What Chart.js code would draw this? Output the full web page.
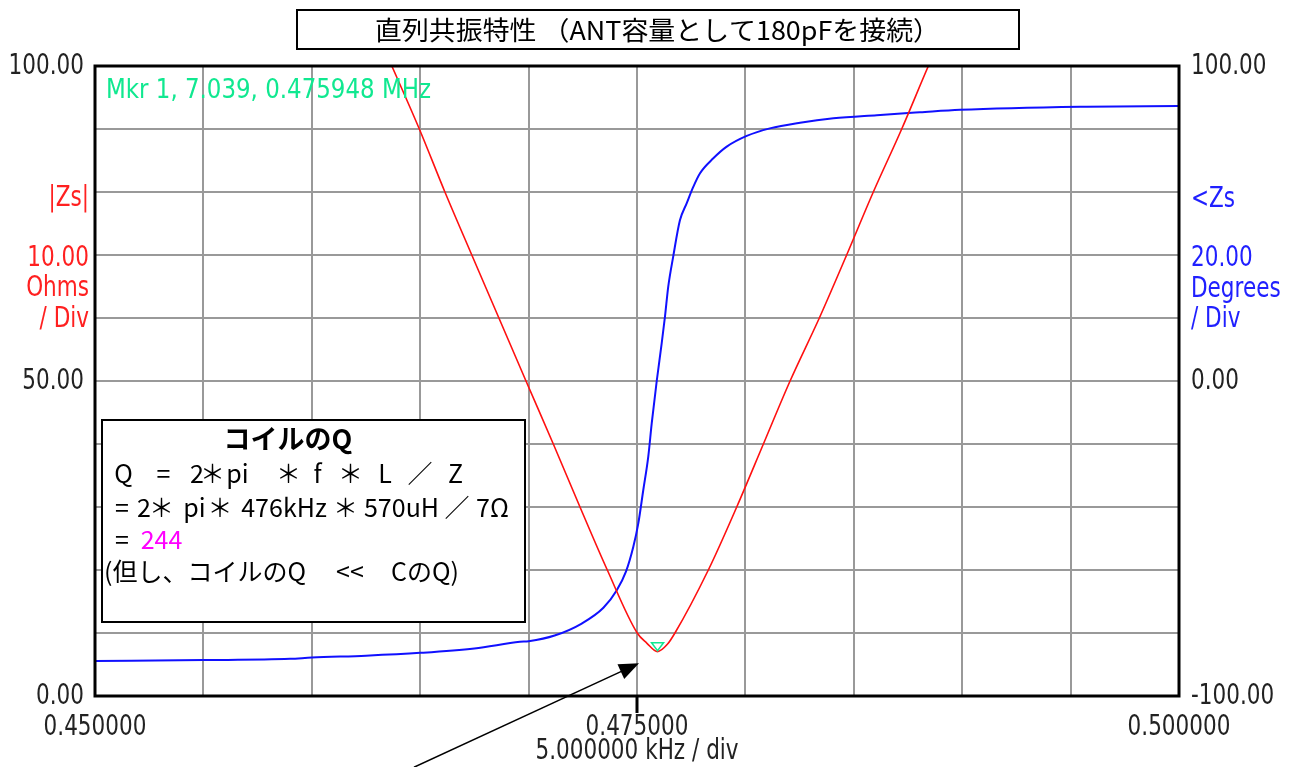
<!DOCTYPE html>
<html>
<head>
<meta charset="utf-8">
<script src="https://cdn.jsdelivr.net/npm/chart.js@4/dist/chart.umd.min.js"></script>
<style>
html, body { margin: 0; padding: 0; background: #fff; }
#wrap { width: 1299px; height: 767px; }
</style>
</head>
<body>
<div id="wrap"><canvas id="c"></canvas></div>
<script>
// |Zs| trace (MHz, ohms)
var zsFreq = [0.46330, 0.46369, 0.46496, 0.46614, 0.46738, 0.46863, 0.46988, 0.47114, 0.47237, 0.47363,
              0.47501, 0.47545, 0.475948, 0.47640, 0.47675, 0.47829, 0.47960, 0.48083, 0.48206, 0.48341,
              0.48467, 0.48590, 0.48721, 0.48844, 0.48870];
var zsOhm  = [103, 100, 90, 80, 70, 60, 50, 40, 30, 20,
              10, 8.4, 7.039, 8.2, 10, 20, 30, 40, 50, 60,
              70, 80, 90, 100, 102];
// <Zs trace (MHz, degrees)
var phFreq = [0.45000, 0.45500, 0.45900, 0.46000, 0.46250, 0.46500, 0.46750, 0.46960, 0.47000, 0.47120,
              0.47245, 0.47345, 0.47406, 0.47449, 0.47483, 0.47506, 0.47529, 0.47552, 0.47568, 0.47591,
              0.47614, 0.47629, 0.47644, 0.47667, 0.47698, 0.47729, 0.47760, 0.47790, 0.47852, 0.47914,
              0.48006, 0.48113, 0.48252, 0.48406, 0.48606, 0.48805, 0.48990, 0.49546, 0.50000];
var phDeg  = [-88.9, -88.6, -88.2, -87.8, -87.2, -86.3, -84.9, -82.8, -82.6, -80.8,
              -77.0, -72.0, -66.5, -60.5, -52.6, -45.2, -34.6, -24.0, -13.4, 0.0,
              12.0, 20.4, 29.9, 39.5, 51.0, 56.4, 61.7, 65.9, 70.7, 74.4,
              77.8, 80.2, 82.0, 83.4, 84.4, 85.3, 86.1, 87.1, 87.3];
var mkrFreq = 0.475948, mkrOhm = 7.039;
var xTickLabels  = ["0.450000", "0.475000", "0.500000"];
var yTickLabels  = ["0.00", "50.00", "100.00"];
var y2TickLabels = ["-100.00", "0.00", "100.00"];

var NARROW = '"DejaVu Sans",sans-serif';
var JP = '"Noto Sans CJK JP","Noto Sans",sans-serif';
var SQ = 0.77; // horizontal squeeze for the narrow instrument font

var pts = function(xs, ys){ return xs.map(function(x, i){ return {x: x, y: ys[i]}; }); };

function sqText(ctx, str, x, y, align, sx){
  ctx.save();
  ctx.translate(x, y);
  ctx.scale(sx, 1);
  ctx.textAlign = align;
  ctx.fillText(str, 0, 0);
  ctx.restore();
}
function fitText(ctx, str, x, y, width){
  var sx = width / ctx.measureText(str).width;
  sqText(ctx, str, x, y, 'left', sx);
}
// each token drawn centred on its x (or left aligned when asked)
function tokens(ctx, list, y){
  list.forEach(function(t){
    ctx.textAlign = t[3] || 'center';
    ctx.fillStyle = t[2] || '#000';
    ctx.fillText(t[0], t[1], y);
  });
}

var decor = {
  id: 'decor',
  afterDraw: function(chart){
    var ctx = chart.ctx, a = chart.chartArea;
    var xs = chart.scales.x, ys = chart.scales.y, y2 = chart.scales.y2;
    ctx.save();
    ctx.textBaseline = 'middle';
    // plot frame
    ctx.strokeStyle = '#000'; ctx.lineWidth = 3;
    ctx.strokeRect(a.left, a.top, a.right - a.left, a.bottom - a.top);
    var cx = xs.getPixelForValue(0.475);
    ctx.beginPath(); ctx.moveTo(cx, a.bottom); ctx.lineTo(cx, a.bottom + 17); ctx.stroke();

    // tick labels from the scales
    ctx.font = '28px ' + NARROW;
    ctx.fillStyle = '#222';
    xs.ticks.forEach(function(t, i){
      if (i % 5 === 0) sqText(ctx, xTickLabels[i / 5], xs.getPixelForValue(t.value), 728, 'center', SQ);
    });
    ys.ticks.forEach(function(t, i){
      if (i % 5 === 0) sqText(ctx, yTickLabels[i / 5], a.left - 11, ys.getPixelForValue(t.value) + 1, 'right', SQ);
    });
    y2.ticks.forEach(function(t, i){
      if (i % 5 === 0) sqText(ctx, y2TickLabels[i / 5], a.right + 12, y2.getPixelForValue(t.value) + 1, 'left', SQ);
    });
    sqText(ctx, '5.000000 kHz / div', cx, 752, 'center', SQ);

    // axis captions
    ctx.fillStyle = '#FF2020';
    sqText(ctx, '|Zs|', 89, 199, 'right', SQ);
    sqText(ctx, '10.00', 89, 259, 'right', SQ);
    sqText(ctx, 'Ohms', 89, 289, 'right', SQ);
    sqText(ctx, '/ Div', 89, 320, 'right', SQ);
    ctx.fillStyle = '#2020FF';
    sqText(ctx, '<Zs', 1191, 200, 'left', SQ);
    sqText(ctx, '20.00', 1191, 259, 'left', SQ);
    sqText(ctx, 'Degrees', 1191, 290, 'left', SQ);
    sqText(ctx, '/ Div', 1191, 320, 'left', SQ);

    // marker readout
    ctx.font = '27px ' + NARROW;
    ctx.fillStyle = '#10E890';
    fitText(ctx, 'Mkr 1, 7.039, 0.475948 MHz', 106, 91, 325);

    // marker triangle
    var mx = xs.getPixelForValue(mkrFreq), my = ys.getPixelForValue(mkrOhm);
    ctx.strokeStyle = '#10E890'; ctx.lineWidth = 1.5;
    ctx.beginPath();
    ctx.moveTo(mx - 6, my - 9); ctx.lineTo(mx + 6, my - 9); ctx.lineTo(mx, my - 1); ctx.closePath();
    ctx.stroke();

    // title box
    ctx.strokeStyle = '#000'; ctx.lineWidth = 2;
    ctx.fillStyle = '#fff';
    ctx.fillRect(297, 10, 722, 39);
    ctx.strokeRect(297, 10, 722, 39);
    ctx.fillStyle = '#000';
    ctx.font = '26px ' + JP;
    fitText(ctx, '直列共振特性 （ANT容量として180pFを接続）', 375, 30, 565);

    // Q note box
    ctx.fillStyle = '#fff';
    ctx.fillRect(102, 420, 423, 202);
    ctx.strokeRect(102, 420, 423, 202);
    ctx.fillStyle = '#000';
    ctx.textAlign = 'center';
    ctx.font = 'bold 27px ' + JP;
    ctx.fillText('コイルのQ', 288, 439);
    ctx.font = '25px ' + JP;
    tokens(ctx, [['Q',123.5],['=',163.5],['2',197],['＊',212.5],['pi',237.5],['＊',288.5],['f',317.5],
                 ['＊',350.5],['L',385],['／',420],['Z',455.5]], 473);
    tokens(ctx, [['=',122],['2',144],['＊',161.5],['pi',194.5],['＊',220],['476kHz',284],['＊',345.5],
                 ['570uH',401.5],['／',457],['7Ω',492.5]], 507);
    tokens(ctx, [['=',122],['244',161.5,'#FF00FF']], 539);
    tokens(ctx, [['(但し、コイルのQ',104,'#000','left'],['<<',350],['CのQ)',425]], 571);

    // arrow to the 0.475 MHz point
    var tx = cx + 2, ty = ys.getPixelForValue(5.2);
    var sx = tx - 225, sy = ty + 104;
    var ang = Math.atan2(ty - sy, tx - sx), c = Math.cos(ang), s = Math.sin(ang);
    ctx.strokeStyle = '#000'; ctx.fillStyle = '#000'; ctx.lineWidth = 1.5;
    ctx.beginPath(); ctx.moveTo(sx, sy); ctx.lineTo(tx - 14 * c, ty - 14 * s); ctx.stroke();
    ctx.beginPath();
    ctx.moveTo(tx, ty);
    ctx.lineTo(tx - 20 * c + 8 * s, ty - 20 * s - 8 * c);
    ctx.lineTo(tx - 20 * c - 8 * s, ty - 20 * s + 8 * c);
    ctx.closePath(); ctx.fill();
    ctx.restore();
  }
};

new Chart(document.getElementById('c'), {
  type: 'line',
  data: {
    datasets: [
      { label: '|Zs|', data: pts(zsFreq, zsOhm), yAxisID: 'y', borderColor: '#FF1010', borderWidth: 1.6,
        pointRadius: 0, cubicInterpolationMode: 'monotone' },
      { label: '<Zs', data: pts(phFreq, phDeg), yAxisID: 'y2', borderColor: '#1010FF', borderWidth: 2,
        pointRadius: 0, cubicInterpolationMode: 'monotone' }
    ]
  },
  options: {
    responsive: true,
    maintainAspectRatio: false,
    animation: false,
    events: [],
    layout: { padding: { top: 66, left: 0, right: 0, bottom: 0 } },
    plugins: { legend: { display: false }, tooltip: { enabled: false }, title: { display: false } },
    scales: {
      x: {
        type: 'linear', min: 0.45, max: 0.5,
        afterFit: function(s){ s.height = 71; },
        grid: { color: '#999', lineWidth: 2, drawTicks: false },
        border: { display: false },
        ticks: { stepSize: 0.005, autoSkip: false, display: false }
      },
      y: {
        position: 'left', min: 0, max: 100,
        afterFit: function(s){ s.width = 95; },
        grid: { color: '#999', lineWidth: 2, drawTicks: false },
        border: { display: false },
        ticks: { stepSize: 10, display: false }
      },
      y2: {
        position: 'right', min: -100, max: 100,
        afterFit: function(s){ s.width = 120; },
        grid: { drawOnChartArea: false, drawTicks: false },
        border: { display: false },
        ticks: { stepSize: 20, display: false }
      }
    }
  },
  plugins: [decor]
});
</script>
</body>
</html>
